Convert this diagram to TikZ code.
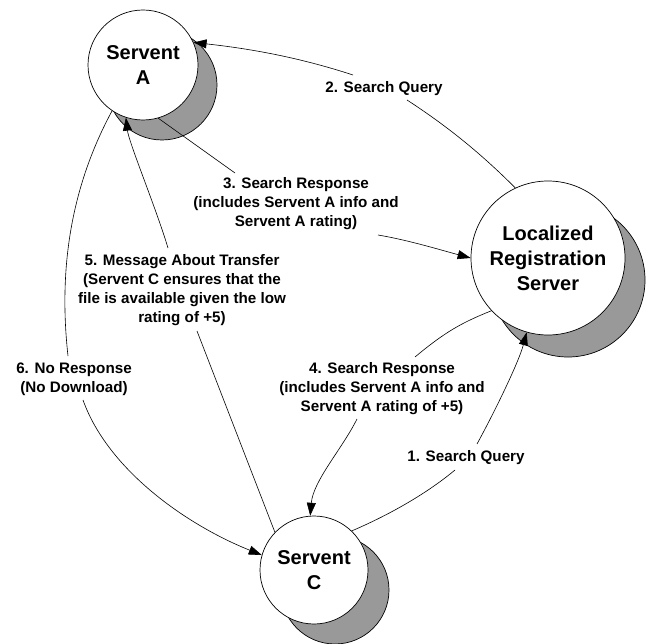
\documentclass[tikz,border=0pt]{standalone}
\usepackage{fontspec}
\setmainfont{Liberation Sans}
\usetikzlibrary{arrows.meta}
\definecolor{shade}{RGB}{153,153,153}
\begin{document}
\begin{tikzpicture}[x=1pt,y=-1pt,
  conn/.style={line width=0.6pt},
  arr/.style={conn,-{Triangle[length=13pt,width=9pt]}},
  ball/.style={circle,draw,line width=0.7pt,fill=white,inner sep=0pt,align=center,font=\fontsize{20}{25}\selectfont\bfseries},
  shadowball/.style={circle,draw,line width=0.7pt,fill=shade,inner sep=0pt},
  lbl/.style={align=center,inner sep=0pt,font=\fontsize{15.2}{19.2}\selectfont\bfseries}]
\useasboundingbox (0,0) rectangle (647,644);
% nodes with shadows
\node[shadowball,minimum size=110pt] (Ash) at (162,85) {};
\node[ball,minimum size=110pt] (A) at (143,65) {Servent\\A};
\node[shadowball,minimum size=154pt] (Ssh) at (568,280) {};
\node[ball,minimum size=154pt] (S) at (548,258) {Localized\\Registration\\Server};
\node[shadowball,minimum size=108pt] (Csh) at (335,590) {};
\node[ball,minimum size=108pt] (C) at (314,570) {Servent\\C};
% labels
\node[lbl] (L1) at (466,458) {1. Search Query};
\node[lbl] (L2) at (384,89) {2. Search Query};
\node[lbl] (L3) at (296,203.5) {3. Search Response\\(includes Servent A info and\\Servent A rating)};
\node[lbl] (L4) at (382,388.5) {4. Search Response\\(includes Servent A info and\\Servent A rating of +5)};
\node[lbl] (L5) at (182,290) {5. Message About Transfer\\(Servent C ensures that the\\file is available given the low\\rating of +5)};
\node[lbl] (L6) at (74,379.5) {6. No Response\\(No Download)};
% label end points
\coordinate (l1a) at (455,470); \coordinate (l1b) at (477,444);
\coordinate (l2a) at (407,100); \coordinate (l2b) at (353,75);
\coordinate (l3a) at (235,173); \coordinate (l3b) at (378,235);
\coordinate (l4a) at (415,357); \coordinate (l4b) at (357,419);
\coordinate (l5a) at (197,331); \coordinate (l5b) at (168,248);
\coordinate (l6a) at (68,356);  \coordinate (l6b) at (83,400);
% 1. Search Query: C -> S
\draw[conn] (C.46) .. controls +(35,-15) and +(-30,25) .. (l1a);
\draw[arr] (l1b) .. controls +(18,-33) and +(-8,30) .. (S.-106);
% 2. Search Query: S -> A
\draw[conn] (S.115) .. controls +(-35,-35) and +(40,26) .. (l2a);
\draw[arr] (l2b) .. controls +(-55,-18) and +(55,6) .. (A.24);
% 3. Search Response: A -> S
\draw[conn] (A.-74) -- (l3a);
\draw[arr] (l3b) .. controls +(30,5) and +(-30,-8) .. (S.180);
% 4. Search Response: S -> C
\draw[conn] (S.-137) .. controls +(-30,12) and +(30,-25) .. (l4a);
\draw[arr] (l4b) .. controls +(-15,30) and +(3,-35) .. (C.94);
% 5. Message About Transfer: C -> A
\draw[conn] (C.136) -- (l5a);
\draw[arr] (l5b) .. controls +(-12,-40) and +(3,25) .. (A.-108);
% 6. No Response: A -> C
\draw[conn] (A.-124) .. controls +(-40,74) and +(-10,-90) .. (l6a);
\draw[arr] (l6b) .. controls +(25,70) and +(-75,-30) .. (C.164);
\end{tikzpicture}
\end{document}
